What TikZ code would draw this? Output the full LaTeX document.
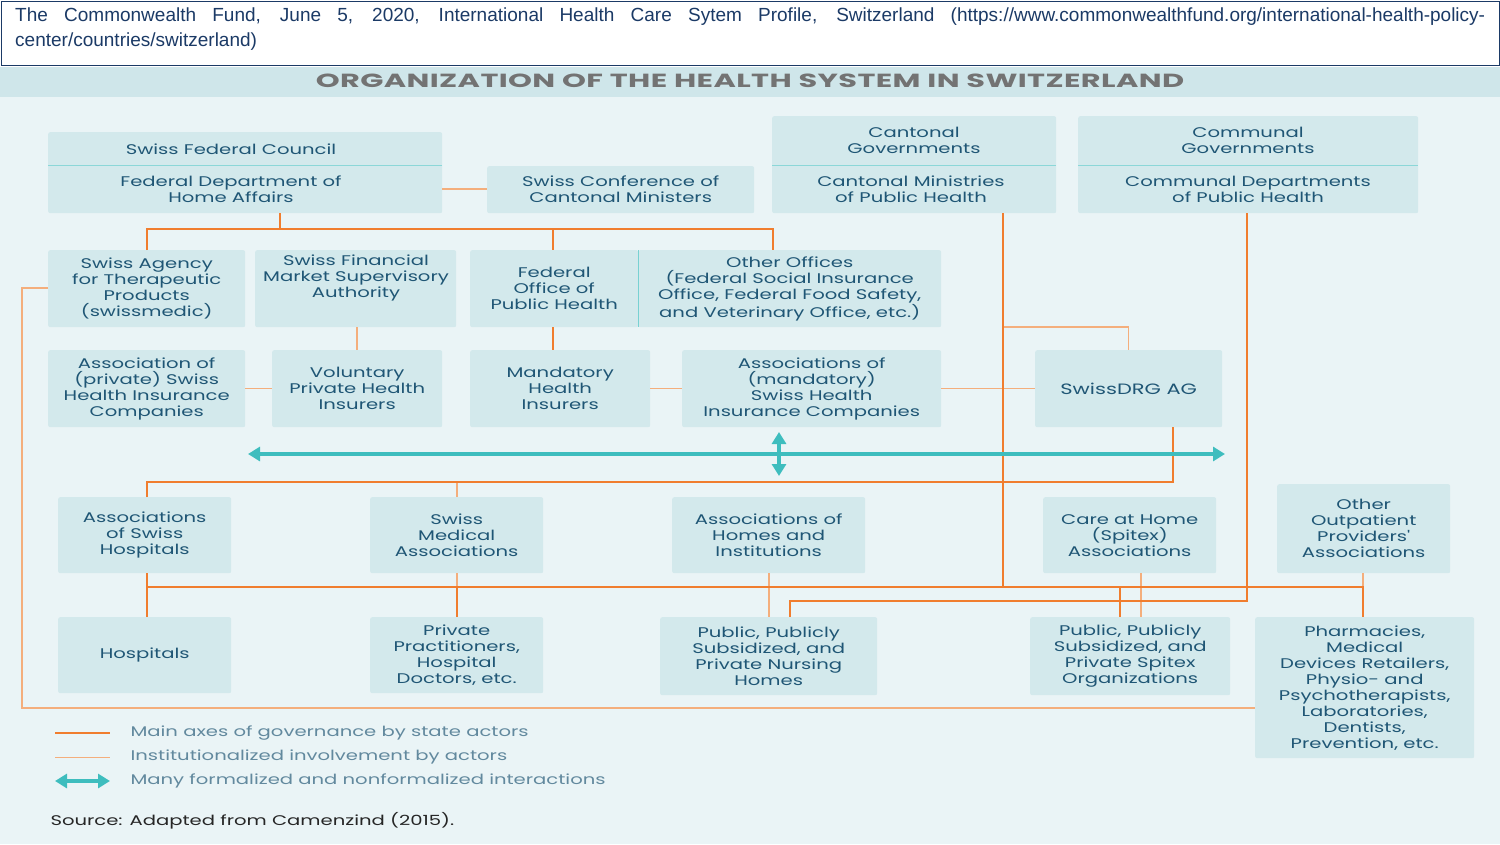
\documentclass[tikz,border=0pt]{standalone}
\usepackage{fontspec}
\setmainfont{Liberation Sans}
\newfontfamily\boxfont[FakeStretch=1.4]{Poppins}
\newfontfamily\titfont[FakeStretch=1.6,LetterSpace=2]{Poppins}
\usetikzlibrary{arrows.meta}
\definecolor{bg}{HTML}{EAF4F6}
\definecolor{band}{HTML}{CFE6EA}
\definecolor{boxc}{HTML}{D3E9EC}
\definecolor{txt}{HTML}{1F5675}
\definecolor{org}{HTML}{F07D2E}
\definecolor{lorg}{HTML}{F4AE7C}
\definecolor{teal}{HTML}{3EBDBE}
\definecolor{cite}{HTML}{1B3A66}
\begin{document}
\begin{tikzpicture}[x=1pt,y=-1pt,
  box/.style={fill=boxc,rounded corners=2pt,anchor=north west,inner sep=1pt,align=center,text=txt,font=\boxfont\fontsize{14}{16}\selectfont},
  main/.style={draw=org,line width=2.6pt},
  inst/.style={draw=lorg,line width=1.3pt},
  inter/.style={draw=teal,line width=4pt,{Triangle[width=14pt,length=12pt]}-{Triangle[width=14pt,length=12pt]}},
  leg/.style={anchor=west,text=txt!70,font=\boxfont\fontsize{14}{16}\selectfont}]
\useasboundingbox (0,0) rectangle (1500,844);
\fill[bg] (0,67) rectangle (1500,844);
\fill[band] (0,67) rectangle (1500,97);
\draw[cite,line width=1pt,fill=white] (1,1) rectangle (1499,65);
\node[anchor=north west,text width=1470pt,align=justify,text=cite,font=\fontsize{19}{25}\selectfont,inner sep=0pt] (cit) at (15,8) {The Commonwealth Fund, June 5, 2020, International Health Care Sytem Profile, Switzerland (https://www.commonwealthfund.org/international-health-policy-\linebreak center/countries/switzerland)};
\node[text=gray!90!black,font=\titfont\bfseries\fontsize{19}{22}\selectfont] (title) at (750,81) {ORGANIZATION OF THE HEALTH SYSTEM IN SWITZERLAND};
% boxes
\node[box,minimum width=394pt,minimum height=81pt] (sfc) at (48,132) {};
\node[box,fill=none,anchor=center] (sfct) at (231,149) {Swiss Federal Council};
\draw[teal!60,line width=0.8pt] (48,165) -- (442,165);
\node[box,fill=none,anchor=center] (fdha) at (231,189) {Federal Department of\\Home Affairs};
\node[box,minimum width=267pt,minimum height=47pt] (scc) at (487,166) {Swiss Conference of\\Cantonal Ministers};
\node[box,minimum width=284pt,minimum height=97pt] (cg) at (772,116) {};
\node[box,fill=none,anchor=center] (cgt) at (914,140) {Cantonal\\Governments};
\draw[teal!60,line width=0.8pt] (772,165) -- (1056,165);
\node[box,fill=none,anchor=center] (cm) at (911,189) {Cantonal Ministries\\of Public Health};
\node[box,minimum width=340pt,minimum height=97pt] (comg) at (1078,116) {};
\node[box,fill=none,anchor=center] (comgt) at (1248,140) {Communal\\Governments};
\draw[teal!60,line width=0.8pt] (1078,165) -- (1418,165);
\node[box,fill=none,anchor=center] (cd) at (1248,189) {Communal Departments\\of Public Health};
\node[box,minimum width=197pt,minimum height=77pt] (smed) at (48,250) {Swiss Agency\\for Therapeutic\\Products\\(swissmedic)};
\node[box,minimum width=201pt,minimum height=77pt,anchor=north west] (fsma) at (255,250) {};
\node[box,fill=none,anchor=north] (fsmat) at (356,254) {Swiss Financial\\Market Supervisory\\Authority};
\node[box,minimum width=168pt,minimum height=77pt] (foph) at (470,250) {Federal\\Office of\\Public Health};
\node[box,minimum width=303pt,minimum height=77pt] (oo) at (638,250) {Other Offices\\(Federal Social Insurance\\Office, Federal Food Safety,\\and Veterinary Office, etc.)};
\draw[teal!70,line width=1pt] (638,250) -- (638,327);
\node[box,minimum width=197pt,minimum height=77pt] (apsh) at (48,350) {Association of\\(private) Swiss\\Health Insurance\\Companies};
\node[box,minimum width=170pt,minimum height=77pt] (vphi) at (272,350) {Voluntary\\Private Health\\Insurers};
\node[box,minimum width=180pt,minimum height=77pt] (mhi) at (470,350) {Mandatory\\Health\\Insurers};
\node[box,minimum width=259pt,minimum height=77pt] (amsh) at (682,350) {Associations of\\(mandatory)\\Swiss Health\\Insurance Companies};
\node[box,minimum width=187pt,minimum height=77pt,font=\boxfont\fontsize{15}{16}\selectfont] (drg) at (1035,350) {SwissDRG AG};
\node[box,minimum width=173pt,minimum height=76pt] (ash) at (58,497) {Associations\\of Swiss\\Hospitals};
\node[box,minimum width=173pt,minimum height=76pt] (sma) at (370,497) {Swiss\\Medical\\Associations};
\node[box,minimum width=193pt,minimum height=76pt] (ahi) at (672,497) {Associations of\\Homes and\\Institutions};
\node[box,minimum width=173pt,minimum height=76pt] (cha) at (1043,497) {Care at Home\\(Spitex)\\Associations};
\node[box,minimum width=173pt,minimum height=89pt] (oopa) at (1277,484) {Other\\Outpatient\\Providers'\\Associations};
\node[box,minimum width=173pt,minimum height=76pt] (hosp) at (58,617) {Hospitals};
\node[box,minimum width=173pt,minimum height=76pt] (pp) at (370,617) {Private\\Practitioners,\\Hospital\\Doctors, etc.};
\node[box,minimum width=217pt,minimum height=78pt] (nh) at (660,617) {Public, Publicly\\Subsidized, and\\Private Nursing\\Homes};
\node[box,minimum width=200pt,minimum height=78pt] (spx) at (1030,617) {Public, Publicly\\Subsidized, and\\Private Spitex\\Organizations};
\node[box,minimum width=219pt,minimum height=141pt] (ph) at (1255,617) {Pharmacies,\\Medical\\Devices Retailers,\\Physio- and\\Psychotherapists,\\Laboratories,\\Dentists,\\Prevention, etc.};
% junctions
\coordinate (j1) at (280,229);
\coordinate (j2) at (147,482);
\coordinate (j3) at (147,587);
\coordinate (j4) at (790,601);
\coordinate (jl) at (22,288);
% thin connectors
\draw[inst] (442,189) -- (scc.west |- 0,189);
\draw[inst] (357,327) -- (357,350);
\draw[inst] (apsh.east) -- (vphi.west);
\draw[inst] (mhi.east) -- (amsh.east -| 682,0);
\draw[inst] (amsh.east) -- (drg.west);
\draw[inst] (1003,327) -| (drg.north);
\draw[inst] (smed.west |- jl) -- (jl) -- (22,708) -- (ph.west |- 0,708);
\draw[inst] (457,482) -- (sma.north -| 457,0);
\draw[inst] (457,573) -- (457,587);
\draw[inst] (769,573) -- (769,617);
\draw[inst] (1141,573) -- (1141,617);
\draw[inst] (1363,573) -- (1363,587);
% main connectors
\draw[main] (280,213) -- (j1);
\draw[main] (smed.north -| 147,0) -- (147,229) -- (773,229) -- (oo.north -| 773,0);
\draw[main] (553,229) -- (553,250);
\draw[main] (553,327) -- (553,350);
\draw[main] (1003,213) -- (1003,587);
\draw[main] (1247,213) -- (1247,601) -- (j4) -- (790,617);
\draw[main] (1120,601) -- (1120,617);
\draw[main] (ash.north -| 147,0) -- (j2) -- (1173,482) -- (1173,427);
\draw[main] (147,573) -- (147,617);
\draw[main] (j3) -- (1363,587) -- (1363,617);
\draw[main] (457,587) -- (457,617);
\draw[main] (1120,587) -- (1120,601);
% interactions
\draw[inter] (248,454) -- (1225,454);
\draw[inter] (779,432) -- (779,476);
% legend
\coordinate (l1a) at (55,733); \coordinate (l1b) at (110,733);
\coordinate (l2a) at (55,757); \coordinate (l2b) at (110,757);
\coordinate (l3a) at (55,781); \coordinate (l3b) at (110,781);
\draw[main] (l1a) -- (l1b);
\draw[draw=lorg,line width=1pt] (l2a) -- (l2b);
\draw[inter] (l3a) -- (l3b);
\node[leg] (t1) at (127,733) {Main axes of governance by state actors};
\node[leg] (t2) at (127,757) {Institutionalized involvement by actors};
\node[leg] (t3) at (127,781) {Many formalized and nonformalized interactions};
\node[leg,text=black!85] (src) at (47,821) {Source: Adapted from Camenzind (2015).};
\end{tikzpicture}
\end{document}
